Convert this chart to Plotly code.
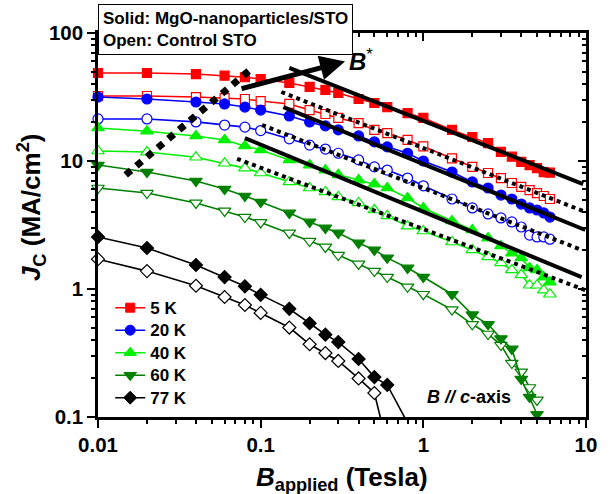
import math
import plotly.graph_objects as go

# ---------------- data ----------------
B_FIELD = [0.01, 0.02, 0.04, 0.06, 0.08, 0.1, 0.15, 0.2, 0.25, 0.3, 0.4, 0.5, 0.6,
           0.8, 1.0, 1.5, 2.0, 2.5, 3.0, 3.5, 4.0, 4.5, 5.0, 5.5, 6.0]

jc_5K_solid = [48.7, 48.7, 47.8, 46.4, 45.1, 43.7, 40.7, 37.9, 35.9, 34.0, 30.5, 28.4, 26.4,
               23.7, 21.7, 17.5, 15.4, 13.8, 11.8, 10.8, 9.85, 9.3, 8.8, 8.2, 8.1]
jc_5K_open = [32.2, 32.2, 31.6, 31.0, 30.5, 29.4, 27.9, 25.0, 23.3, 21.7, 19.8, 17.5, 16.5,
              14.6, 13.0, 10.5, 9.0, 8.06, 7.36, 6.73, 6.27, 5.93, 5.62, 5.33, 5.05]
jc_20K_solid = [31.6, 30.5, 28.9, 27.9, 26.4, 25.0, 22.5, 20.2, 18.8, 17.5, 15.7, 14.1, 12.9,
                11.5, 10.0, 8.2, 6.86, 6.15, 5.42, 5.05, 4.61, 4.3, 4.14, 3.93, 3.65]
jc_20K_open = [21.3, 21.3, 20.2, 19.1, 18.4, 17.3, 14.9, 13.3, 12.4, 11.5, 10.2, 9.0, 8.5,
               7.36, 6.4, 5.05, 4.3, 3.86, 3.59, 3.34, 3.05, 2.64, 2.55, 2.55, 2.45]
jc_40K_solid = [18.1, 17.1, 15.7, 14.6, 13.1, 12.2, 10.2, 9.3, 8.5, 7.8, 7.1, 6.6, 6.15,
                5.14, 4.3, 3.4, 2.89, 2.5, 2.17, 1.91, 1.75, 1.46, 1.41, 1.24, 1.13]
jc_40K_open = [11.97, 11.75, 10.7, 9.6, 8.8, 8.06, 6.86, 6.15, 5.73, 5.24, 4.7, 4.14, 3.72,
               3.1, 2.84, 2.33, 2.02, 1.78, 1.6, 1.41, 1.29, 1.07, 1.07, 0.98, 0.91]

B_60K = [0.01, 0.02, 0.04, 0.06, 0.08, 0.1, 0.15, 0.2, 0.25, 0.3, 0.4, 0.5, 0.6,
         0.8, 1.0, 1.5, 2.0, 2.5, 3.0, 3.5, 4.0, 4.5, 5.0]
jc_60K_solid = [9.3, 8.2, 6.98, 6.04, 5.33, 4.78, 3.93, 3.34, 3.0, 2.74, 2.29, 2.02, 1.75,
                1.46, 1.24, 0.91, 0.63, 0.53, 0.41, 0.34, 0.198, 0.143, 0.105]
jc_60K_open = [6.15, 5.62, 4.7, 4.07, 3.65, 3.31, 2.74, 2.37, 2.13, 1.84, 1.57, 1.38, 1.24,
               1.04, 0.91, 0.69, 0.53, 0.445, 0.365, 0.264, 0.225, 0.17, 0.136]

B_77K_solid = [0.01, 0.02, 0.04, 0.06, 0.08, 0.1, 0.15, 0.2, 0.25, 0.3, 0.4, 0.5, 0.6, 0.8]
jc_77K_solid = [2.55, 2.09, 1.54, 1.24, 1.05, 0.90, 0.70, 0.54, 0.44, 0.385, 0.284, 0.205, 0.178, 0.09]
B_77K_open = [0.01, 0.02, 0.04, 0.06, 0.08, 0.1, 0.15, 0.2, 0.25, 0.3, 0.4, 0.5, 0.6]
jc_77K_open = [1.71, 1.38, 1.06, 0.866, 0.75, 0.65, 0.50, 0.37, 0.316, 0.274, 0.20, 0.154, 0.06]

# power-law guide lines (solid = MgO, dotted = control): [B_start, B_end], [Jc_start, Jc_end]
fit_B = {"s1": [0.15, 9.6], "d1": [0.134, 9.9], "s2": [0.138, 9.9],
         "d2": [0.102, 9.4], "s3": [0.08, 9.4], "d3": [0.0716, 9.9]}
fit_J = {"s1": [53.4, 6.6], "d1": [34.6, 4.0], "s2": [26.4, 2.89],
         "d2": [19.1, 2.02], "s3": [15.1, 1.24], "d3": [10.4, 0.98]}
# B* crossover line
bstar_B = [0.0148, 0.0858]
bstar_J = [7.78, 51.4]
# B* arrow (tail, head) in (Tesla, MA/cm2)
arrow_tail = (0.0747, 36.5)
arrow_head = (0.33, 60.0)

X_TICKS = [0.01, 0.1, 1, 10]
X_TICKTEXT = ["0.01", "0.1", "1", "10"]
Y_TICKS = [0.1, 1, 10, 100]
Y_TICKTEXT = ["0.1", "1", "10", "100"]
MINOR_X = [m * 10 ** e for e in (-2, -1, 0) for m in range(2, 10)]
MINOR_Y = [m * 10 ** e for e in (-1, 0, 1) for m in range(2, 10)]

XR = [math.log10(0.01), math.log10(10)]
YR = [math.log10(0.1), math.log10(100)]

FONT = "Arial, Liberation Sans, sans-serif"

fig = go.Figure()

series = [
    ("5 K", "#ff0000", "square", 9, B_FIELD, jc_5K_solid, jc_5K_open, B_FIELD),
    ("20 K", "#0000ff", "circle", 10, B_FIELD, jc_20K_solid, jc_20K_open, B_FIELD),
    ("40 K", "#00f000", "triangle-up", 11, B_FIELD, jc_40K_solid, jc_40K_open, B_FIELD),
    ("60 K", "#008000", "triangle-down", 11, B_60K, jc_60K_solid, jc_60K_open, B_60K),
]


def add_series(name, color, symbol, size, bx, jy, filled, legend):
    fig.add_trace(go.Scatter(x=bx, y=jy, mode="lines", line=dict(color=color, width=1.6),
                             showlegend=False, hoverinfo="skip"))
    mx = [b for b, j in zip(bx, jy) if j >= 0.1]
    my = [j for j in jy if j >= 0.1]
    fig.add_trace(go.Scatter(
        x=mx, y=my, mode="markers", cliponaxis=False, name=name, showlegend=False,
        marker=dict(symbol=symbol, size=size, color=color if filled else "white",
                    line=dict(color=color, width=1.2))))
    if legend:
        fig.add_trace(go.Scatter(
            x=[None], y=[None], mode="lines+markers",
            name='<span style="font-size:17px"><b>' + name + "</b></span>",
            showlegend=True, line=dict(color=color, width=1.6),
            marker=dict(symbol=symbol, size=size, color=color, line=dict(color=color, width=1))))


for name, color, sym, size, bx, js, jo, bo in series:
    add_series(name, color, sym, size, bo, jo, False, False)
    add_series(name, color, sym, size, bx, js, True, True)

add_series("77 K", "#000000", "diamond", 10, B_77K_open, jc_77K_open, False, False)
add_series("77 K", "#000000", "diamond", 10, B_77K_solid, jc_77K_solid, True, True)

for key in fit_B:
    dash = "solid" if key.startswith("s") else "dot"
    fig.add_trace(go.Scatter(x=fit_B[key], y=fit_J[key], mode="lines", showlegend=False,
                             line=dict(color="black", width=4, dash=dash), hoverinfo="skip"))

fig.add_trace(go.Scatter(x=bstar_B, y=bstar_J, mode="lines", showlegend=False,
                         line=dict(color="black", width=7, dash="dot"), hoverinfo="skip"))

# info box
fig.add_annotation(x=0.0, y=1.075, xref="paper", yref="paper", xanchor="left", yanchor="top",
                   showarrow=False, align="left",
                   text="<b>Solid: MgO-nanoparticles/STO</b><br><b>Open: Control STO</b>",
                   font=dict(family=FONT, size=17, color="black"),
                   bordercolor="black", borderwidth=1, borderpad=4, bgcolor="white")

# arrow to B*
fig.add_annotation(x=math.log10(arrow_head[0]), y=math.log10(arrow_head[1]),
                   ax=math.log10(arrow_tail[0]), ay=math.log10(arrow_tail[1]),
                   xref="x", yref="y", axref="x", ayref="y", text="",
                   showarrow=True, arrowhead=2, arrowsize=1.0, arrowwidth=5, arrowcolor="black")
fig.add_annotation(x=math.log10(0.34), y=math.log10(62), xref="x", yref="y",
                   xanchor="left", yanchor="middle", showarrow=False,
                   text="<b><i>B</i></b><sup>*</sup>",
                   font=dict(family=FONT, size=24, color="black"))

# B // c-axis label
fig.add_annotation(x=math.log10(1.9), y=math.log10(0.143), xref="x", yref="y",
                   showarrow=False, text="<b><i>B // c</i>-axis</b>",
                   font=dict(family=FONT, size=18, color="black"))

# axis titles
fig.add_annotation(x=-0.137, y=0.547, xref="paper", yref="paper", xanchor="center",
                   yanchor="middle", showarrow=False, textangle=-90,
                   text="<b><i>J</i><sub>C</sub> (MA/cm<sup>2</sup>)</b>",
                   font=dict(family=FONT, size=26, color="black"))
fig.add_annotation(x=0.5, y=-0.16, xref="paper", yref="paper", xanchor="center",
                   yanchor="middle", showarrow=False,
                   text="<b><i>B</i><sub>applied</sub> (Tesla)</b>",
                   font=dict(family=FONT, size=26, color="black"))

axis_common = dict(type="log", showgrid=False, zeroline=False, linecolor="black",
                   linewidth=2.5, tickcolor="black", tickwidth=2, ticklen=8)
tickfont = dict(family=FONT, size=20.5, color="black", weight="bold")

fig.update_layout(
    width=609, height=494,
    margin=dict(l=98, r=15, t=33, b=77),
    paper_bgcolor="white", plot_bgcolor="white",
    font=dict(family=FONT, color="black"),
    showlegend=True,
    legend=dict(x=0.025, y=0.327, xanchor="left", yanchor="top",
                bgcolor="rgba(0,0,0,0)", borderwidth=0,
                font=dict(family=FONT, size=15, color="black"), tracegroupgap=0),
    xaxis=dict(**axis_common, range=XR, ticks="outside", tickvals=X_TICKS, ticktext=X_TICKTEXT,
               tickfont=tickfont,
               minor=dict(tickvals=MINOR_X, ticks="outside", ticklen=4, tickwidth=1.5,
                          tickcolor="black")),
    yaxis=dict(**axis_common, range=YR, ticks="outside", tickvals=Y_TICKS, ticktext=Y_TICKTEXT,
               tickfont=tickfont,
               minor=dict(tickvals=MINOR_Y, ticks="outside", ticklen=4, tickwidth=1.5,
                          tickcolor="black")),
    xaxis2=dict(**axis_common, range=XR, overlaying="x", side="top", anchor="y",
                ticks="inside", tickvals=X_TICKS, showticklabels=False,
                minor=dict(tickvals=MINOR_X, ticks="inside", ticklen=4, tickwidth=1.5,
                           tickcolor="black")),
    yaxis2=dict(**axis_common, range=YR, overlaying="y", side="right", anchor="x",
                ticks="inside", tickvals=Y_TICKS, showticklabels=False,
                minor=dict(tickvals=MINOR_Y, ticks="inside", ticklen=4, tickwidth=1.5,
                           tickcolor="black")),
)

fig.add_trace(go.Scatter(x=[0.5], y=[1], xaxis="x2", yaxis="y2", mode="markers",
                         marker=dict(opacity=0), showlegend=False, hoverinfo="skip"))

fig.write_html("out.html")
